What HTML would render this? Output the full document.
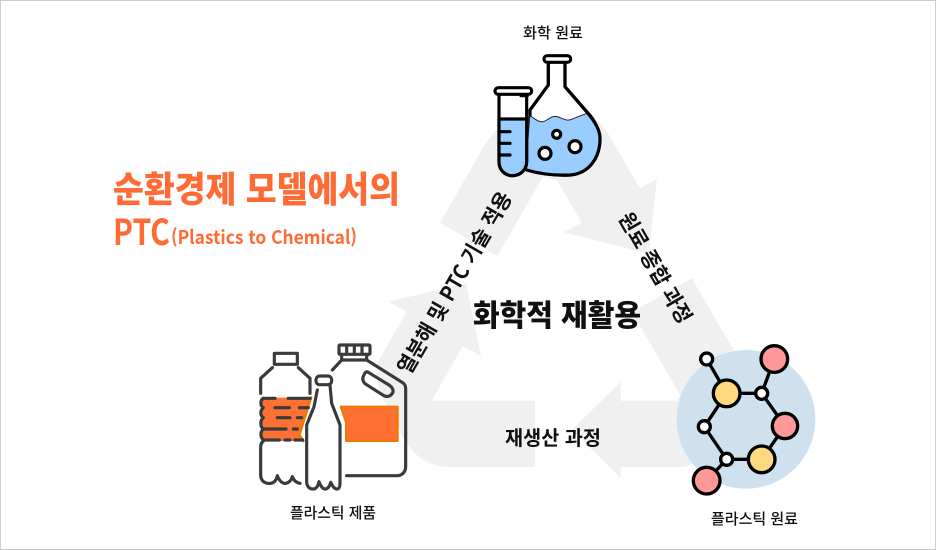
<!DOCTYPE html>
<html lang="ko">
<head>
<meta charset="utf-8">
<style>
html,body{margin:0;padding:0;background:#fff;width:936px;height:550px;overflow:hidden}
svg{display:block}
text{font-family:"Liberation Sans","Noto Sans CJK KR",sans-serif;fill:#111}
.k{font-family:"Noto Sans CJK KR",sans-serif}
</style>
</head>
<body>
<svg width="936" height="550" viewBox="0 0 936 550" xmlns="http://www.w3.org/2000/svg">
<rect x="0.5" y="0.5" width="935" height="549" fill="#fff" stroke="#cccccc"/>

<!-- gray recycling arrows -->
<g fill="#f0f0f0">
<path d="M535 400.7H431.7L462.7 346L481 355.7L466 283.3L388.3 301.7L406.7 311.7L378 362C372 380 385 405 393 415C400 432 412 467 450 467H535Z"/>
<path d="M440 222.7L497.3 256L543 176.7L556.7 180L581.7 222.7L564 232.3L649 254L656.7 179.3L640 188L610 137C600 120 590 110 570 112L520 118C495 125 488 140 480 153Z"/>
<path d="M691.7 278.3L632 312L680 395L677 400.7H620.7V381.7L571.7 430L620.7 478V467H680C705 467 735 430 745 390C748 375 743 365 735 352Z"/>
</g>

<!-- flask group -->
<g transform="translate(470,10) scale(.33333)" stroke="#000" stroke-width="9.5" stroke-linejoin="round" stroke-linecap="round">
<path d="M235 155V225L180 300V470C190 490 250 497 300 495C360 490 390 440 390 385C385 350 370 325 350 305L285 230V155" fill="#fff"/>
<path d="M180 318C195 325 205 338 220 335C235 330 245 315 262 320C278 325 290 335 305 328C320 322 335 315 352 310C375 335 390 360 390 385C390 440 360 490 300 495C250 497 190 490 170 480Z" fill="#99ccff" stroke="none"/>
<path d="M180 318C195 325 205 338 220 335C235 330 245 315 262 320C278 325 290 335 305 328C320 322 335 315 352 310" fill="none" stroke="#223" stroke-width="3"/>
<path d="M235 155V225L180 300M285 155V230L350 305C375 335 390 360 390 385C390 440 360 490 300 495C250 497 210 492 170 480" fill="none"/>
<rect x="222" y="137" width="80" height="20" rx="10" fill="#fff"/>
<circle cx="260" cy="373" r="12" fill="#fff"/>
<circle cx="225" cy="430" r="18" fill="#fff"/>
<circle cx="315" cy="410" r="18" fill="#fff"/>
<path d="M87 250V455C87 480 105 497 127 497C150 497 170 480 170 455V250Z" fill="#fff"/>
<path d="M87 327H170V455C170 480 150 497 127 497C105 497 87 480 87 455Z" fill="#99ccff"/>
<path d="M90 365H120M90 400H120M90 435H120" fill="none"/>
<rect x="75" y="233" width="110" height="20" rx="10" fill="#fff"/>
<path d="M153 257H172" fill="none"/>
</g>

<!-- bottles -->
<g transform="translate(240,335) scale(.33333)" stroke="#3a3a3c" stroke-width="9.5" stroke-linecap="round" stroke-linejoin="round" fill="none">
<!-- left bottle orange -->
<path d="M62 188H213L190 260L178 300L190 318H70C62 305 62 295 68 285C60 270 62 260 68 250C60 240 62 225 68 218C60 210 62 198 62 188Z" fill="#ff7033" stroke="none"/>
<path d="M213 188L190 260L178 300L190 318" stroke="#f07800" stroke-width="8"/>
<rect x="103" y="55" width="69" height="33"/>
<path d="M97 98L62 130V175M175 98L210 130V175"/>
<path d="M70 190H105M145 190H210M105 218H148M178 218H205M112 248H150M172 248H185M70 282H138M160 282H172M70 315H118M135 315H150M165 315H188"/>
<path d="M70 190C60 196 60 212 70 218C60 226 60 242 70 248C60 256 60 275 70 282C60 290 60 308 72 316C62 325 62 330 62 340V420C62 438 75 447 92 445C105 443 110 432 112 422C118 438 128 447 138 445C150 442 155 432 157 425C162 437 170 444 180 445"/>
<!-- jug -->
<path d="M302 215H473V318H318V262Z" fill="#ff7033" stroke="#f07800" stroke-width="6"/>
<rect x="297" y="30" width="93" height="28" rx="3"/>
<path d="M320 32V56M343 32V56M366 32V56"/>
<path d="M305 58V75H380V58M305 75L277 105M380 75L488 143C494 147 497 153 497 160V395C497 412 485 422 470 422H320"/>
<path d="M385 112L447 150C458 157 462 168 457 175C451 185 440 187 430 181L378 148C368 141 366 130 371 122C375 113 378 108 385 112Z"/>
<!-- middle bottle -->
<path d="M232 165L222 215L200 270V440C200 455 210 463 220 462C230 461 235 450 237 440C242 455 250 463 256 462C265 461 270 450 272 442C278 455 285 463 292 462C298 461 300 452 300 445V270L275 205L270 150" fill="#fff"/>
<rect x="228" y="123" width="47" height="26" rx="11" fill="#fff"/>
</g>

<!-- molecule -->
<g transform="translate(660,335) scale(.33333)" stroke="#000" stroke-width="10">
<circle cx="258" cy="253" r="208" fill="#cfe0ee" stroke="none"/>
<path d="M140 72L200 175L305 175L343 72M305 175L375 273L305 373L200 373L133 275L200 175M200 373L140 437" fill="none"/>
<circle cx="140" cy="72" r="18" fill="#fff"/>
<circle cx="343" cy="72" r="40" fill="#ff9999"/>
<circle cx="200" cy="175" r="40" fill="#ffd980"/>
<circle cx="305" cy="175" r="18" fill="#fff"/>
<circle cx="133" cy="275" r="18" fill="#fff"/>
<circle cx="375" cy="273" r="38" fill="#ff9999"/>
<circle cx="200" cy="373" r="18" fill="#fff"/>
<circle cx="305" cy="373" r="40" fill="#ffd980"/>
<circle cx="140" cy="437" r="40" fill="#ff9999"/>
</g>

<!-- labels -->
<text x="523" y="38" class="k" font-size="15" font-weight="500" textLength="60" lengthAdjust="spacingAndGlyphs">화학 원료</text>
<text x="290" y="518" class="k" font-size="15" font-weight="500" textLength="86" lengthAdjust="spacingAndGlyphs">플라스틱 제품</text>
<text x="711" y="524" class="k" font-size="15" font-weight="500" textLength="87" lengthAdjust="spacingAndGlyphs">플라스틱 원료</text>
<text x="473" y="326" class="k" font-size="30" font-weight="900" textLength="168" lengthAdjust="spacingAndGlyphs">화학적 재활용</text>
<text x="505" y="445" class="k" font-size="20" font-weight="700" textLength="96" lengthAdjust="spacingAndGlyphs">재생산 과정</text>
<text x="113" y="202" class="k" font-size="36" font-weight="900" style="fill:#ff6b35" textLength="287" lengthAdjust="spacingAndGlyphs">순환경제 모델에서의</text>
<text x="113" y="245" class="k" font-size="36" font-weight="700" style="fill:#ff6b35" textLength="57" lengthAdjust="spacingAndGlyphs">PTC</text>
<text x="171" y="244" class="k" font-size="19" font-weight="700" style="fill:#ff6b35" textLength="186" lengthAdjust="spacingAndGlyphs">(Plastics to Chemical)</text>
<text transform="translate(455,283) rotate(-60)" x="-103" y="7" class="k" font-size="21" font-weight="700" textLength="206" lengthAdjust="spacingAndGlyphs">열분해 및 PTC 기술 적용</text>
<text transform="translate(655,268) rotate(60)" x="-62" y="7" class="k" font-size="21" font-weight="700" textLength="124" lengthAdjust="spacingAndGlyphs">원료 종합 과정</text>
</svg>
</body>
</html>
